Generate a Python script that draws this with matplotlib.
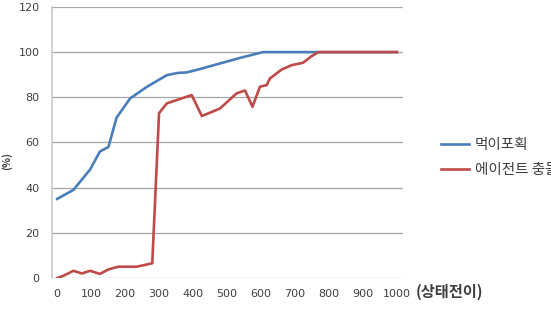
import matplotlib.pyplot as plt
import numpy as np

plt.rcParams['font.family'] = ['Noto Sans CJK KR', 'DejaVu Sans']

# 먹이포획 (prey capture)
x_prey = [0, 48, 97, 126, 151, 175, 215, 264, 323, 356, 381, 420, 480, 540, 606, 700, 780, 1000]
y_prey = [35, 39, 48, 56, 58, 71, 79.5, 84.6, 89.8, 90.8, 91, 92.5, 95, 97.5, 100, 100, 100, 100]

# 에이전트 충돌 (agent collision)
x_coll = [0, 19, 48, 73, 97, 126, 151, 180, 234, 280, 300, 323, 396, 426, 479, 528, 553, 575,
          597, 617, 626, 661, 690, 724, 749, 769, 1000]
y_coll = [0, 1, 3.2, 2, 3.2, 1.8, 3.8, 5, 5, 6.5, 73, 77.3, 81, 71.7, 75, 81.7, 83, 75.8,
          84.7, 85.4, 88.3, 92.3, 94.2, 95.3, 98.2, 100, 100]

yticks = [0, 20, 40, 60, 80, 100, 120]
xticks = [0, 100, 200, 300, 400, 500, 600, 700, 800, 900, 1000]

fig = plt.figure(figsize=(5.51, 3.15), dpi=100)
ax = fig.add_axes([0.0944, 0.1175, 0.637, 0.8605])

ax.plot(x_prey, y_prey, color='#4a7ebb', lw=1.9, label='먹이포획', zorder=3)
ax.plot(x_coll, y_coll, color='#be4b48', lw=1.9, label='에이전트 충돌', zorder=3)

ax.set_xlim(-15, 1018)
ax.set_ylim(0, 120)
ax.set_yticks(yticks)
ax.set_xticks(xticks)
ax.grid(axis='y', color='#a6a6a6', lw=0.9)
ax.set_axisbelow(True)
for s in ['top', 'right', 'bottom']:
    ax.spines[s].set_visible(False)
ax.spines['left'].set_color('#c8c8c8')
ax.spines['left'].set_linewidth(1.2)
ax.tick_params(length=0, labelsize=8, labelcolor='#404040')
ax.tick_params(axis='y', pad=9)
ax.tick_params(axis='x', pad=8)
for lbl in ax.get_xticklabels() + ax.get_yticklabels():
    lbl.set_family('DejaVu Sans')

fig.text(0.013, 0.49, '(%)', rotation=90, fontsize=7.5, fontweight='bold', color='#404040',
         va='center', ha='center')
fig.text(0.755, 0.072, '(상태전이)', fontsize=11, fontweight='bold', color='#404040', va='center')

fig.legend(loc='center left', bbox_to_anchor=(0.777, 0.5), frameon=False,
           fontsize=10.5, handlelength=1.9, labelspacing=0.75, handletextpad=0.4,
           labelcolor='#404040')

fig.savefig('out.png', dpi=100)
